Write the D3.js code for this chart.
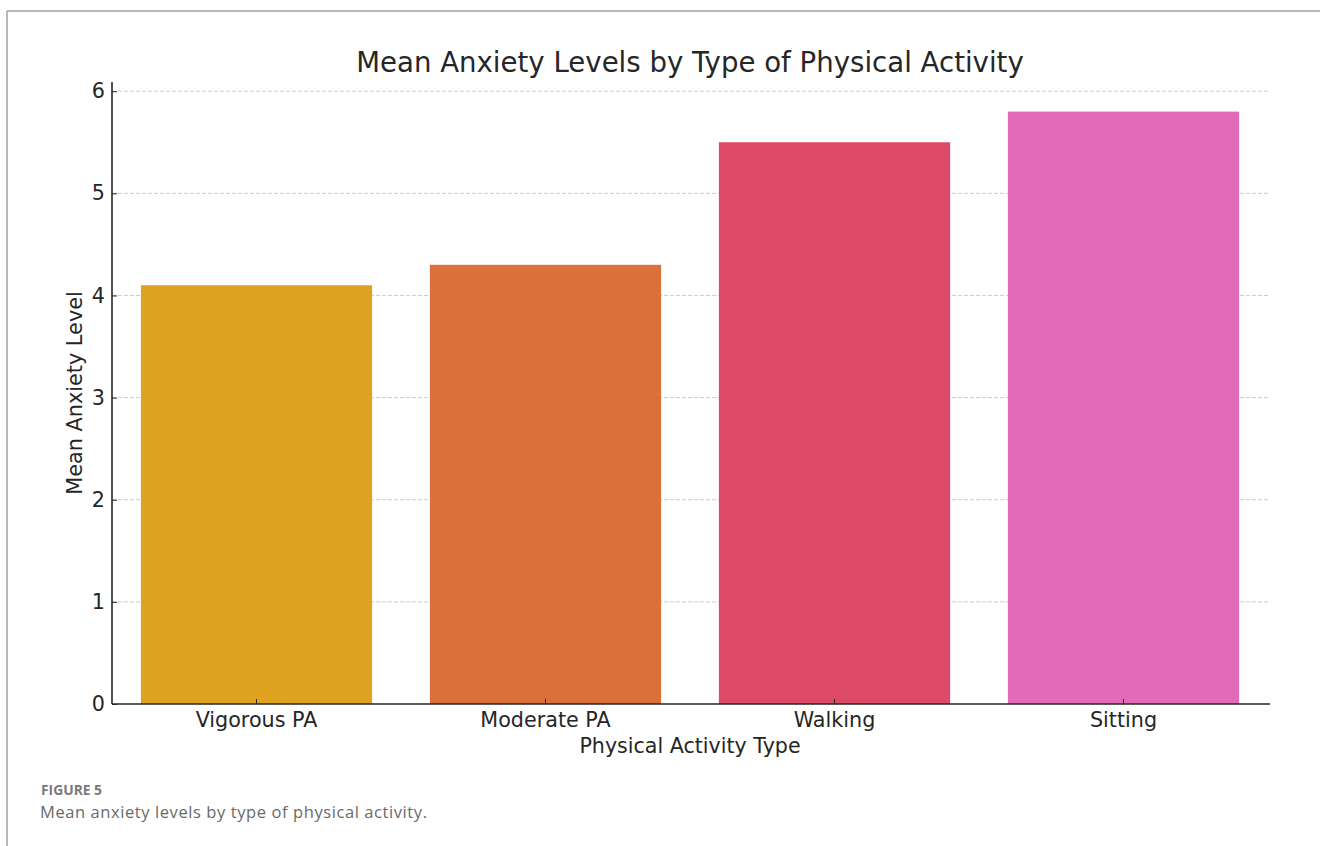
<!DOCTYPE html>
<html>
<head>
<meta charset="utf-8">
<script src="https://cdn.jsdelivr.net/npm/d3@7"></script>
<style>
  html, body { margin: 0; padding: 0; background: #fff; }
  svg { display: block; }
</style>
</head>
<body>
<svg id="chart" width="1320" height="846"></svg>
<script>
// Chart data
const categories = ["Vigorous PA", "Moderate PA", "Walking", "Sitting"];
const meanAnxiety = [4.1, 4.3, 5.5, 5.8];
const barColors = ["#DFA321", "#DA703A", "#DC4A67", "#E36AB8"];
const yTicks = [0, 1, 2, 3, 4, 5, 6];

const svg = d3.select("#chart");
const W = 1320, H = 846;
const plot = { left: 112, right: 1268, top: 82, bottom: 704 };
const font = "'DejaVu Sans', sans-serif";
const ink = "#262626";

// Figure frame lines
svg.append("line").attr("x1", 7).attr("x2", W).attr("y1", 11).attr("y2", 11)
  .attr("stroke", "#a0a0a0").attr("stroke-width", 1.5);
svg.append("line").attr("x1", 7).attr("x2", 7).attr("y1", 11).attr("y2", H)
  .attr("stroke", "#a0a0a0").attr("stroke-width", 1.5);

const x = d3.scaleBand().domain(categories)
  .range([plot.left, plot.right]).paddingInner(0.2).paddingOuter(0.1);
const y = d3.scaleLinear().domain([0, 5.8 * 1.05]).range([plot.bottom, plot.top]);

// Horizontal gridlines
svg.append("g").selectAll("line").data(yTicks.slice(1)).join("line")
  .attr("x1", plot.left).attr("x2", plot.right)
  .attr("y1", d => y(d)).attr("y2", d => y(d))
  .attr("stroke", "#cccccc").attr("stroke-width", 1).attr("stroke-dasharray", "4,2");

// Bars
svg.append("g").selectAll("rect").data(categories).join("rect")
  .attr("x", d => x(d)).attr("width", x.bandwidth())
  .attr("y", (d, i) => y(meanAnxiety[i]))
  .attr("height", (d, i) => y(0) - y(meanAnxiety[i]))
  .attr("fill", (d, i) => barColors[i]);

// Axes (ticks point inward)
const yAxis = svg.append("g").attr("transform", `translate(${plot.left},0)`)
  .call(d3.axisLeft(y).tickValues(yTicks).tickFormat(d3.format("d"))
    .tickSizeInner(-5).tickSizeOuter(0).tickPadding(7));
const xAxis = svg.append("g").attr("transform", `translate(0,${plot.bottom})`)
  .call(d3.axisBottom(x).tickSizeInner(-5).tickSizeOuter(0).tickPadding(8));

[yAxis, xAxis].forEach(g => {
  g.select(".domain").attr("stroke", ink).attr("stroke-width", 1.6);
  g.selectAll(".tick line").attr("stroke", ink).attr("stroke-width", 1);
  g.selectAll(".tick text").attr("fill", ink).style("font-family", font).style("font-size", "20.7px");
});
yAxis.select(".domain").attr("d", `M0,${plot.top}V${plot.bottom}`);
xAxis.select(".domain").attr("d", `M${plot.left},0H${plot.right + 2}`);

// Title and axis labels
svg.append("text").attr("x", (plot.left + plot.right) / 2).attr("y", 72)
  .attr("text-anchor", "middle").attr("fill", ink)
  .style("font-family", font).style("font-size", "27.6px")
  .text("Mean Anxiety Levels by Type of Physical Activity");

svg.append("text").attr("x", (plot.left + plot.right) / 2).attr("y", 753)
  .attr("text-anchor", "middle").attr("fill", ink)
  .style("font-family", font).style("font-size", "20.6px")
  .text("Physical Activity Type");

svg.append("text").attr("transform", `translate(82,${(plot.top + plot.bottom) / 2}) rotate(-90)`)
  .attr("text-anchor", "middle").attr("fill", ink)
  .style("font-family", font).style("font-size", "20.8px")
  .text("Mean Anxiety Level");

// Figure caption
svg.append("text").attr("x", 41).attr("y", 795)
  .attr("fill", "#7a7a7a").style("font-family", "'Open Sans', sans-serif")
  .style("font-size", "13.5px").style("font-weight", "700")
  .attr("textLength", 61).attr("lengthAdjust", "spacingAndGlyphs")
  .text("FIGURE 5");
svg.append("text").attr("x", 40).attr("y", 818)
  .attr("fill", "#6a6a6a").style("font-family", "'Open Sans', sans-serif")
  .style("font-size", "16.5px")
  .attr("textLength", 387).attr("lengthAdjust", "spacing")
  .text("Mean anxiety levels by type of physical activity.");
</script>
</body>
</html>
